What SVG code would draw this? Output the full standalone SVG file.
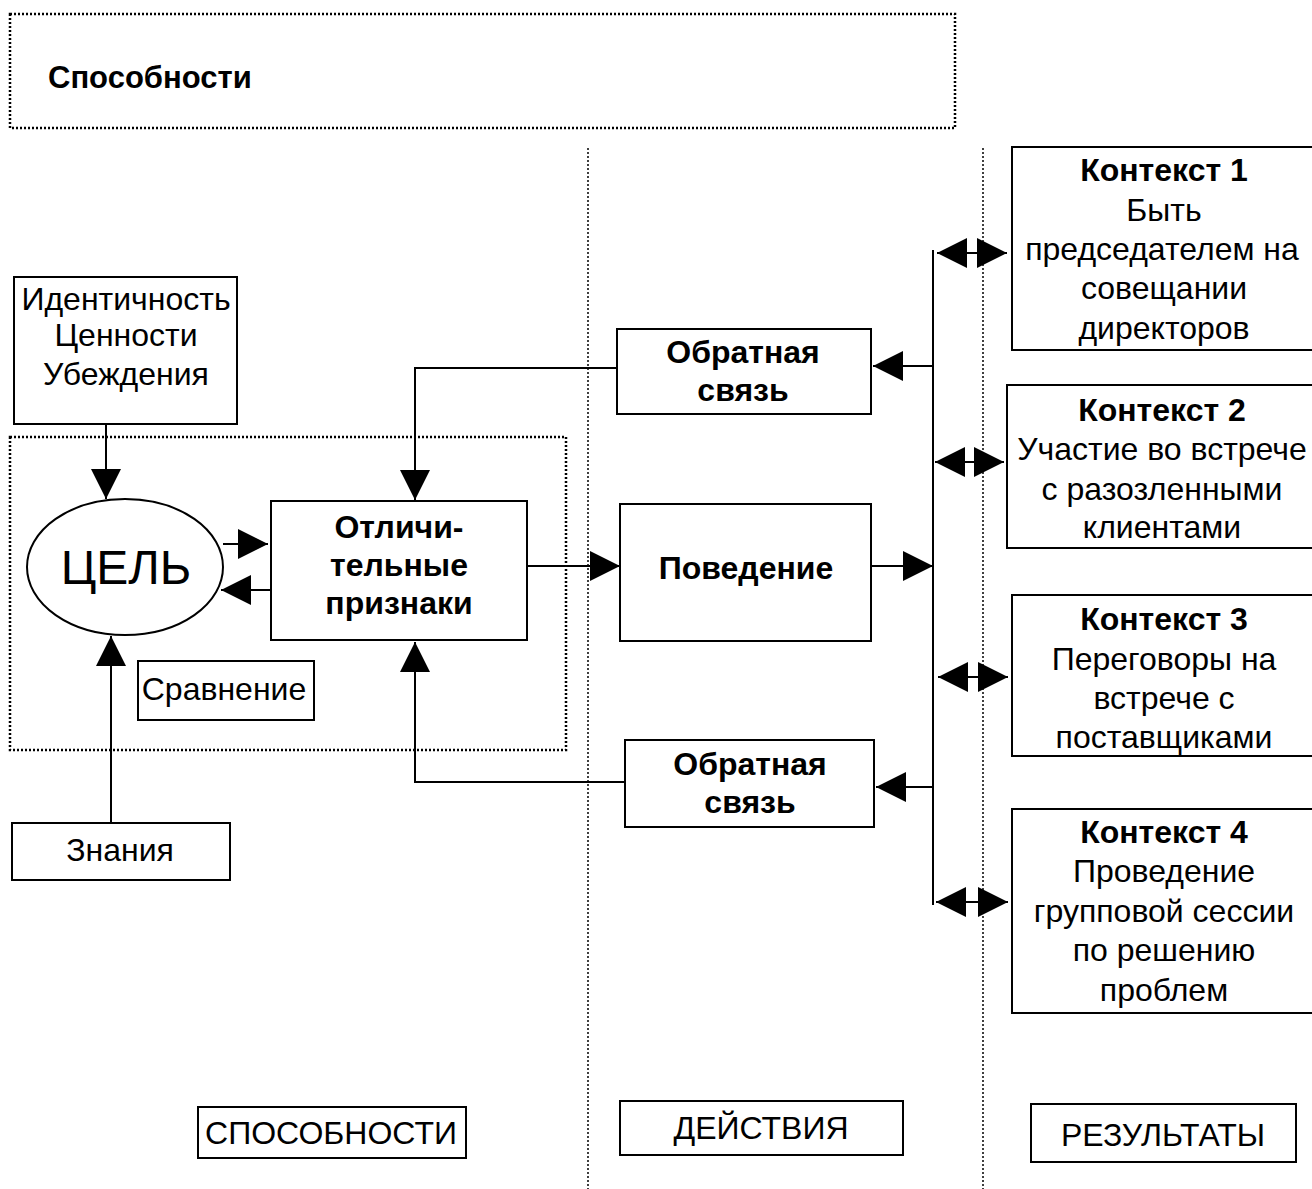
<svg xmlns="http://www.w3.org/2000/svg" width="1312" height="1189" viewBox="0 0 1312 1189">
<defs>
<marker id="ah" markerUnits="userSpaceOnUse" markerWidth="30" markerHeight="30" refX="30" refY="15" orient="auto-start-reverse" viewBox="0 0 30 30">
<path d="M0,0 L30,15 L0,30 z" fill="#000"/>
</marker>
<style>
text{font-family:"Liberation Sans",Arial,sans-serif;fill:#000}
.n{font-size:32px;text-anchor:middle}
.b{font-size:32px;font-weight:bold;text-anchor:middle}
.box{fill:#fff;stroke:#000;stroke-width:2}
.dot{fill:none;stroke:#000;stroke-width:2.5;stroke-dasharray:2 2}
.vdot{fill:none;stroke:#000;stroke-width:1.5;stroke-dasharray:2 2}
.ln{fill:none;stroke:#000;stroke-width:2}
.arr{fill:none;stroke:#000;stroke-width:2;marker-end:url(#ah)}
.dbl{fill:none;stroke:#000;stroke-width:2;marker-start:url(#ah);marker-end:url(#ah)}
</style>
</defs>
<rect width="1312" height="1189" fill="#fff"/>
<g id="frames">
<rect class="dot" x="10" y="14" width="945" height="114"/>
<text x="48" y="88" style="font-size:31px;font-weight:bold">Способности</text>
<rect class="dot" x="10" y="437" width="556" height="313"/>
<line class="vdot" x1="588" y1="148" x2="588" y2="1189"/>
<line class="vdot" x1="983" y1="148" x2="983" y2="1189"/>
</g>
<g id="connectors">
<line class="arr" x1="106" y1="424" x2="106" y2="499"/>
<line class="arr" x1="223" y1="544" x2="268" y2="544"/>
<line class="arr" x1="271" y1="590" x2="221" y2="590"/>
<line class="arr" x1="111" y1="823" x2="111" y2="636"/>
<line class="arr" x1="527" y1="566" x2="620" y2="566"/>
<polyline class="arr" points="617,368 415,368 415,500"/>
<polyline class="arr" points="625,782 415,782 415,642"/>
<line class="ln" x1="933" y1="250" x2="933" y2="905"/>
<line class="arr" x1="933" y1="366" x2="873" y2="366"/>
<line class="arr" x1="933" y1="787" x2="876" y2="787"/>
<line class="arr" x1="871" y1="566" x2="933" y2="566"/>
<line class="dbl" x1="937" y1="253" x2="1007" y2="253"/>
<line class="dbl" x1="935" y1="462" x2="1004" y2="462"/>
<line class="dbl" x1="938" y1="677" x2="1008" y2="677"/>
<line class="dbl" x1="936" y1="902" x2="1008" y2="902"/>
</g>
<g id="identity">
<rect class="box" x="14" y="277" width="223" height="147"/>
<text class="n" x="126" y="310">Идентичность</text>
<text class="n" x="126" y="346">Ценности</text>
<text class="n" x="126" y="385">Убеждения</text>
</g>
<g id="goal">
<ellipse cx="125" cy="567" rx="98" ry="68" fill="#fff" stroke="#000" stroke-width="2"/>
<text x="126" y="584" style="font-size:48px;text-anchor:middle">ЦЕЛЬ</text>
</g>
<g id="features">
<rect class="box" x="271" y="501" width="256" height="139"/>
<text class="b" x="399" y="538">Отличи-</text>
<text class="b" x="399" y="576">тельные</text>
<text class="b" x="399" y="614">признаки</text>
</g>
<g id="comparison">
<rect class="box" x="138" y="661" width="176" height="59"/>
<text class="n" x="224" y="700">Сравнение</text>
</g>
<g id="knowledge">
<rect class="box" x="12" y="823" width="218" height="57"/>
<text class="n" x="120" y="861">Знания</text>
</g>
<g id="feedback1">
<rect class="box" x="617" y="329" width="254" height="85"/>
<text class="b" x="743" y="363">Обратная</text>
<text class="b" x="743" y="401">связь</text>
</g>
<g id="behaviour">
<rect class="box" x="620" y="504" width="251" height="137"/>
<text class="b" x="746" y="579">Поведение</text>
</g>
<g id="feedback2">
<rect class="box" x="625" y="740" width="249" height="87"/>
<text class="b" x="750" y="775">Обратная</text>
<text class="b" x="750" y="813">связь</text>
</g>
<g id="context1">
<rect class="box" x="1012" y="147" width="310" height="203"/>
<text class="b" x="1164" y="181">Контекст 1</text>
<text class="n" x="1164" y="221">Быть</text>
<text class="n" x="1162" y="260">председателем на</text>
<text class="n" x="1164" y="299">совещании</text>
<text class="n" x="1164" y="339">директоров</text>
</g>
<g id="context2">
<rect class="box" x="1007" y="385" width="315" height="163"/>
<text class="b" x="1162" y="421">Контекст 2</text>
<text class="n" x="1162" y="460">Участие во встрече</text>
<text class="n" x="1162" y="500">с разозленными</text>
<text class="n" x="1162" y="538">клиентами</text>
</g>
<g id="context3">
<rect class="box" x="1012" y="595" width="310" height="161"/>
<text class="b" x="1164" y="630">Контекст 3</text>
<text class="n" x="1164" y="670">Переговоры на</text>
<text class="n" x="1164" y="709">встрече с</text>
<text class="n" x="1164" y="748">поставщиками</text>
</g>
<g id="context4">
<rect class="box" x="1012" y="809" width="310" height="204"/>
<text class="b" x="1164" y="843">Контекст 4</text>
<text class="n" x="1164" y="882">Проведение</text>
<text class="n" x="1164" y="922">групповой сессии</text>
<text class="n" x="1164" y="961">по решению</text>
<text class="n" x="1164" y="1001">проблем</text>
</g>
<g id="label-abilities">
<rect class="box" x="198" y="1107" width="268" height="51"/>
<text class="n" x="331" y="1144">СПОСОБНОСТИ</text>
</g>
<g id="label-actions">
<rect class="box" x="620" y="1101" width="283" height="54"/>
<text class="n" x="761" y="1139">ДЕЙСТВИЯ</text>
</g>
<g id="label-results">
<rect class="box" x="1031" y="1104" width="265" height="58"/>
<text class="n" x="1163" y="1146">РЕЗУЛЬТАТЫ</text>
</g>
</svg>
